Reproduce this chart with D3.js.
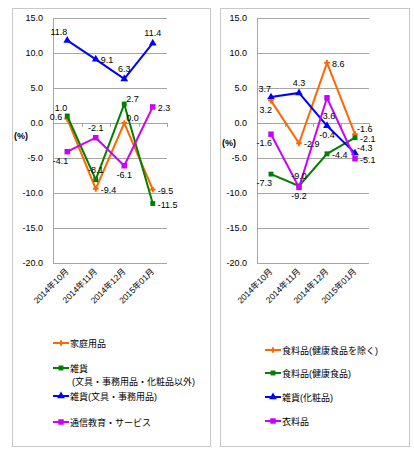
<!DOCTYPE html>
<html>
<head>
<meta charset="utf-8">
<script src="https://cdn.jsdelivr.net/npm/d3@7"></script>
<style>
  body { margin: 0; background: #fff; }
  svg text { font-family: "Liberation Sans", "Noto Sans CJK JP", sans-serif; fill: #000; }
</style>
</head>
<body>
<svg id="chart" width="414" height="450"></svg>
<script>
// months on the x axis
var months = ["2014年10月", "2014年11月", "2014年12月", "2015年01月"];
var yTicks = [15, 10, 5, 0, -5, -10, -15, -20];

// left chart
var leftNames = ["家庭用品", "雑貨\n(文具・事務用品・化粧品以外)", "雑貨(文具・事務用品)", "通信教育・サービス"];
var kateiYohin = [0.6, -9.4, 0.0, -9.5];
var zakkaOther = [1.0, -8.1, 2.7, -11.5];
var zakkaBungu = [11.8, 9.1, 6.3, 11.4];
var tsushinKyoiku = [-4.1, -2.1, -6.1, 2.3];

// right chart
var rightNames = ["食料品(健康食品を除く)", "食料品(健康食品)", "雑貨(化粧品)", "衣料品"];
var shokuryo = [3.2, -2.9, 8.6, -1.6];
var kenkoShokuhin = [-7.3, -9.0, -4.4, -2.1];
var zakkaKesho = [3.7, 4.3, -0.4, -4.3];
var iryohin = [-1.6, -9.2, 3.6, -5.1];

// where each data label sits relative to its point
var leftLabelPos = [["l", "r", "tr", "r"], ["tl", "t", "tr", "r"], ["tl", "r", "t", "t"], ["bl", "t", "b", "r"]];
var rightLabelPos = [["bl", "r", "r", "tr"], ["bl", "t", "r", "r"], ["tl", "t", "b", "tr"], ["bl", "b", "b2", "r"]];

var colors = ["#ff6600", "#008000", "#0000ff", "#cc00ff"];
var shapes = [d3.symbolCross, d3.symbolSquare, d3.symbolTriangle, d3.symbolSquare];
var shapeSizes = [18, 24, 26, 30];

var offsets = {
    t: [0, -7, "middle"],
    b: [0, 12, "middle"],
    b2: [2, 21, "middle"],
    r: [5, 4, "start"],
    l: [-5, 1, "end"],
    tl: [0, -5, "end"],
    tr: [2, -2, "start"],
    bl: [1, 12, "end"]
};

// plain hyphen for negatives, like the original
function fmt(d) { return d.toFixed(1); }

var svg = d3.select("#chart");

function drawPanel(opts) {
    var g = svg.append("g");

    g.append("rect")
        .attr("x", opts.frame[0] + 0.5)
        .attr("y", opts.frame[1] + 0.5)
        .attr("width", opts.frame[2])
        .attr("height", opts.frame[3])
        .attr("fill", "#fff")
        .attr("stroke", "#c8c8c8");

    var x = d3.scaleBand().domain(months).range([opts.left, opts.right]);
    var y = d3.scaleLinear().domain([-20, 15]).range([263, 18]);

    // gridlines
    g.selectAll(".grid")
        .data(yTicks)
        .enter()
        .append("line")
        .attr("x1", opts.left)
        .attr("x2", opts.right)
        .attr("y1", function (d) { return Math.round(y(d)) + 0.5; })
        .attr("y2", function (d) { return Math.round(y(d)) + 0.5; })
        .attr("stroke", "#a6a6a6");

    // y axis
    g.append("line")
        .attr("x1", opts.left + 0.5).attr("x2", opts.left + 0.5)
        .attr("y1", y(15)).attr("y2", y(-20))
        .attr("stroke", "#a6a6a6");

    g.selectAll(".ylab")
        .data(yTicks)
        .enter()
        .append("text")
        .attr("x", opts.left - 10)
        .attr("y", function (d) { return y(d) + 3; })
        .attr("text-anchor", "end")
        .attr("font-size", 9)
        .text(fmt);

    g.append("text")
        .attr("x", opts.pctX)
        .attr("y", opts.pctY)
        .attr("text-anchor", "middle")
        .attr("font-size", 9)
        .attr("font-weight", "bold")
        .text("(%)");

    // small ticks on the zero line
    var bounds = months.map(function (m) { return x(m); }).concat([opts.right]);
    g.selectAll(".xtick")
        .data(bounds)
        .enter()
        .append("line")
        .attr("x1", function (d) { return Math.round(d) + 0.5; })
        .attr("x2", function (d) { return Math.round(d) + 0.5; })
        .attr("y1", Math.round(y(0)))
        .attr("y2", Math.round(y(0)) + 4)
        .attr("stroke", "#a6a6a6");

    // month labels, rotated
    g.selectAll(".xlab")
        .data(months)
        .enter()
        .append("text")
        .attr("transform", function (d) {
            return "translate(" + (x(d) + x.bandwidth() / 2 + 2) + "," + (y(-20) + 9) + ") rotate(-45)";
        })
        .attr("text-anchor", "end")
        .attr("font-size", 8.5)
        .text(function (d) { return d; });

    var line = d3.line()
        .x(function (d, i) { return x(months[i]) + x.bandwidth() / 2; })
        .y(function (d) { return y(d); });

    opts.series.forEach(function (vals, s) {
        g.append("path")
            .attr("d", line(vals))
            .attr("fill", "none")
            .attr("stroke", colors[s])
            .attr("stroke-width", 2);

        g.selectAll(".m" + s)
            .data(vals)
            .enter()
            .append("path")
            .attr("transform", function (d, i) {
                return "translate(" + (x(months[i]) + x.bandwidth() / 2) + "," + y(d) + ")";
            })
            .attr("d", d3.symbol().type(shapes[s]).size(shapeSizes[s]))
            .attr("fill", colors[s]);
    });

    // data labels on top
    opts.series.forEach(function (vals, s) {
        g.selectAll(".lab" + s)
            .data(vals)
            .enter()
            .append("text")
            .attr("x", function (d, i) { return x(months[i]) + x.bandwidth() / 2 + offsets[opts.labelPos[s][i]][0]; })
            .attr("y", function (d, i) { return y(d) + offsets[opts.labelPos[s][i]][1]; })
            .attr("text-anchor", function (d, i) { return offsets[opts.labelPos[s][i]][2]; })
            .attr("font-size", 9)
            .text(fmt);
    });

    // legend
    opts.names.forEach(function (name, s) {
        var ly = opts.legendY[s];
        g.append("line")
            .attr("x1", opts.legendX).attr("x2", opts.legendX + 16)
            .attr("y1", ly).attr("y2", ly)
            .attr("stroke", colors[s])
            .attr("stroke-width", 2);
        g.append("path")
            .attr("transform", "translate(" + (opts.legendX + 8) + "," + ly + ")")
            .attr("d", d3.symbol().type(shapes[s]).size(shapeSizes[s]))
            .attr("fill", colors[s]);
        var t = g.append("text")
            .attr("x", opts.legendX + 17)
            .attr("y", ly + 3.5)
            .attr("font-size", 9);
        name.split("\n").forEach(function (part, k) {
            t.append("tspan")
                .attr("x", opts.legendX + 17 + (k > 0 ? 2 : 0))
                .attr("dy", k > 0 ? 13 : 0)
                .text(part);
        });
    });
}

drawPanel({
    frame: [12, 8, 198, 438],
    left: 53, right: 167,
    pctX: 21, pctY: 139,
    series: [kateiYohin, zakkaOther, zakkaBungu, tsushinKyoiku],
    labelPos: leftLabelPos,
    names: leftNames,
    legendX: 53,
    legendY: [343, 368, 396, 422]
});

drawPanel({
    frame: [220, 8, 189, 438],
    left: 257, right: 369,
    pctX: 229, pctY: 146,
    series: [shokuryo, kenkoShokuhin, zakkaKesho, iryohin],
    labelPos: rightLabelPos,
    names: rightNames,
    legendX: 265,
    legendY: [350, 373, 397, 421]
});
</script>
</body>
</html>
